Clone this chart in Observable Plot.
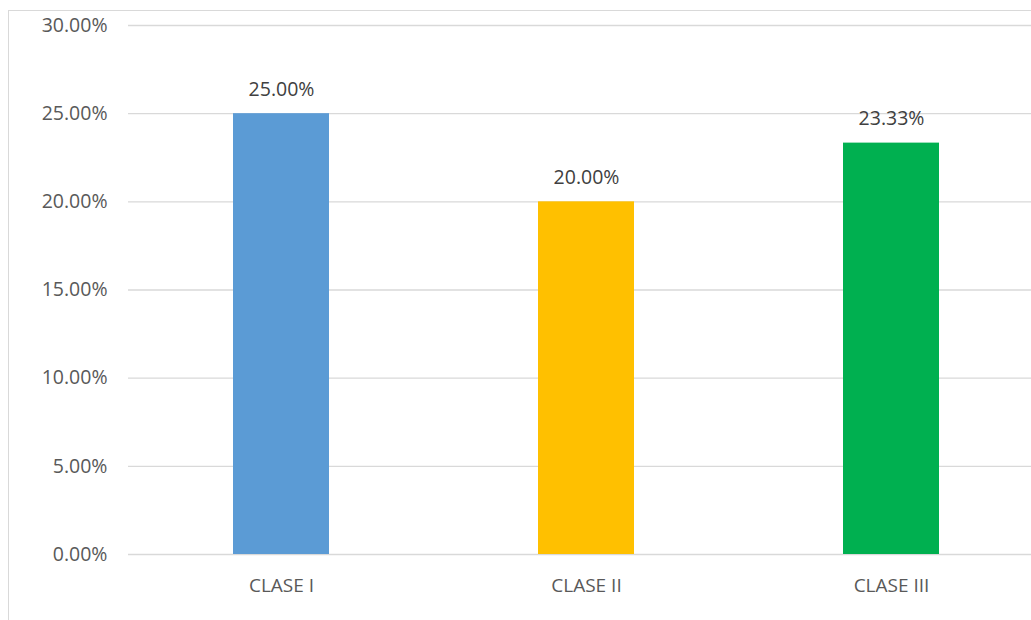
<!DOCTYPE html>
<html>
<head>
<meta charset="utf-8">
<script src="https://cdn.jsdelivr.net/npm/d3@7"></script>
<script src="https://cdn.jsdelivr.net/npm/@observablehq/plot@0.6"></script>
<style>
  html, body { margin: 0; padding: 0; background: #fff; overflow: hidden; width: 1031px; height: 620px; }
  #frame { position: absolute; left: 8px; top: 10px; width: 1100px; height: 700px; border: 1.5px solid #d9d9d9; }
  #chart { position: absolute; left: 0; top: 0; }
</style>
</head>
<body>
<div id="frame"></div>
<div id="chart"></div>
<script>
const categories = ["CLASE I", "CLASE II", "CLASE III"];
const values = [0.25, 0.20, 0.2333];
const colors = ["#5b9bd5", "#ffc000", "#00b050"];
const yTicks = [0, 0.05, 0.10, 0.15, 0.20, 0.25, 0.30];

const data = categories.map((c, i) => ({category: c, value: values[i], color: colors[i]}));
const pct = d3.format(".2%");

const chart = Plot.plot({
  width: 1031,
  height: 620,
  marginTop: 25,
  marginBottom: 66,
  marginLeft: 128,
  marginRight: 0,
  style: {fontFamily: "'Open Sans', sans-serif", background: "transparent", overflow: "visible"},
  x: {domain: categories, range: [128, 1043.5], paddingInner: 0.685, paddingOuter: 0.3425, axis: null},
  y: {domain: [0, 0.30], axis: null},
  marks: [
    Plot.ruleY(yTicks, {stroke: "#d9d9d9", strokeWidth: 1.4}),
    Plot.axisY(yTicks, {tickSize: 0, tickPadding: 21, tickFormat: pct, fontSize: 19.5, color: "#595959", label: null}),
    Plot.barY(data, {x: "category", y: "value", fill: "color"}),
    Plot.text(data, {x: "category", y: "value", text: d => pct(d.value), dy: -24, fontSize: 19.5, fill: "#404040"}),
    Plot.text(data, {x: "category", y: () => 0, text: "category", dy: 31, fontSize: 19, fill: "#595959"})
  ]
});
document.getElementById("chart").appendChild(chart);
</script>
</body>
</html>
